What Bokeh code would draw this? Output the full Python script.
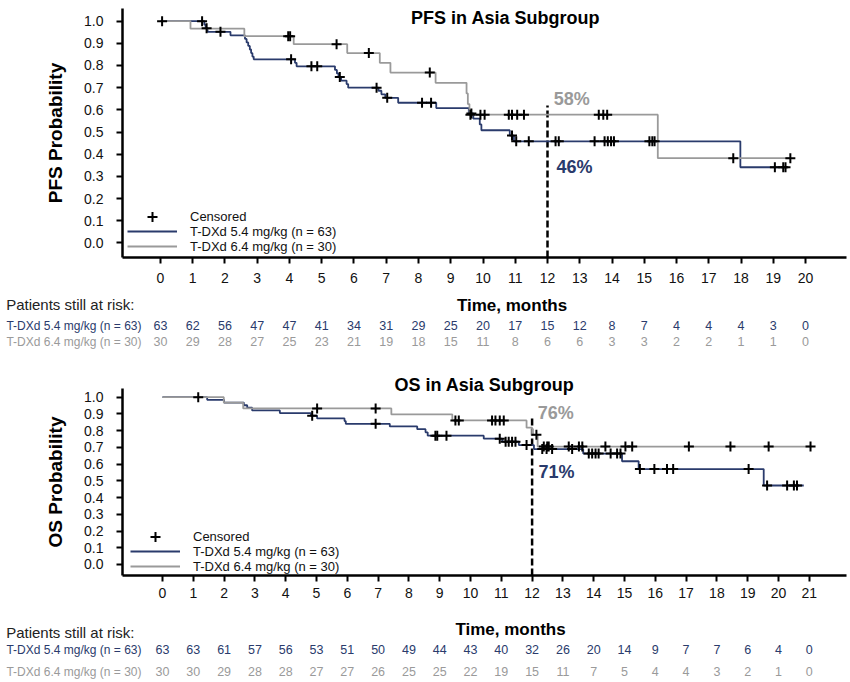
from bokeh.plotting import figure
from bokeh.models import (Range1d, FixedTicker, PrintfTickFormatter, Label, Legend, LegendItem,
                          LinearAxis)
from bokeh.layouts import column
from bokeh.embed import file_html
from bokeh.resources import INLINE
from bokeh.core.properties import value

# ---------------- data ----------------
pfs_months = list(range(0, 21))
os_months = list(range(0, 22))
y_ticks = [0.0, 0.1, 0.2, 0.3, 0.4, 0.5, 0.6, 0.7, 0.8, 0.9, 1.0]
arm_labels = ["T-DXd 5.4 mg/kg (n = 63)", "T-DXd 6.4 mg/kg (n = 30)"]

# PFS, T-DXd 5.4 mg/kg (step times / survival after step)
pfs54_t = [0, 1.36, 1.40, 1.46, 2.17, 2.62, 2.67, 2.72, 2.77, 2.81, 2.85, 2.89, 4.17, 4.22,
           5.41, 5.47, 5.52, 5.60, 5.77, 5.82, 6.76, 6.85, 6.97, 7.37, 8.55, 9.56, 9.70,
           9.90, 9.95, 10.83, 10.96, 17.98, 19.43]
pfs54_s = [1.0, 0.984, 0.968, 0.952, 0.936, 0.920, 0.904, 0.888, 0.872, 0.856, 0.840, 0.828,
           0.812, 0.796, 0.780, 0.764, 0.748, 0.732, 0.716, 0.700, 0.686, 0.670, 0.654, 0.632,
           0.608, 0.584, 0.560, 0.534, 0.508, 0.484, 0.458, 0.341, 0.341]
pfs54_cens_t = [0.05, 1.29, 1.43, 1.86, 4.05, 4.68, 4.86, 5.56, 6.70, 7.03, 8.11, 8.39, 9.64,
                10.90, 11.03, 11.42, 12.25, 12.35, 13.46, 13.77, 13.87, 13.97, 14.06, 15.16,
                15.25, 15.32, 19.05, 19.31, 19.38]
pfs54_cens_s = [1.0, 1.0, 0.968, 0.952, 0.828, 0.796, 0.796, 0.748, 0.700, 0.654, 0.632, 0.632,
                0.584, 0.484, 0.458, 0.458, 0.458, 0.458, 0.458, 0.458, 0.458, 0.458, 0.458,
                0.458, 0.458, 0.458, 0.341, 0.341, 0.341]

# PFS, T-DXd 6.4 mg/kg
pfs64_t = [0, 0.93, 2.60, 4.13, 5.79, 6.80, 7.13, 8.53, 9.49, 9.53, 9.58, 15.42, 19.53]
pfs64_s = [1.0, 0.966, 0.932, 0.896, 0.856, 0.812, 0.768, 0.722, 0.674, 0.626, 0.578, 0.382, 0.382]
pfs64_cens_t = [3.96, 4.02, 5.46, 6.46, 8.35, 9.61, 9.92, 10.05, 10.80, 10.90, 11.06, 11.27,
                13.59, 13.73, 13.85, 17.76, 19.53]
pfs64_cens_s = [0.932, 0.932, 0.896, 0.856, 0.768, 0.578, 0.578, 0.578, 0.578, 0.578, 0.578,
                0.578, 0.578, 0.578, 0.578, 0.382, 0.382]

# OS, T-DXd 5.4 mg/kg
os54_t = [0, 1.45, 2.00, 2.64, 2.75, 2.91, 3.81, 4.82, 5.02, 5.91, 5.95, 7.38, 8.27, 8.54,
          8.61, 10.43, 11.03, 11.57, 12.06, 13.66, 14.92, 15.46, 19.52, 20.82]
os54_s = [1.0, 0.984, 0.968, 0.952, 0.937, 0.921, 0.905, 0.889, 0.873, 0.857, 0.841, 0.825,
          0.809, 0.790, 0.770, 0.752, 0.734, 0.714, 0.690, 0.663, 0.617, 0.570, 0.472, 0.472]
os54_cens_t = [4.86, 6.92, 8.86, 8.92, 9.22, 10.95, 11.14, 11.24, 11.35, 11.46, 11.82, 12.33,
               12.47, 12.65, 13.30, 13.84, 13.95, 14.06, 14.16, 14.55, 14.76, 14.87, 15.50,
               15.97, 16.38, 16.58, 19.03, 19.63, 20.28, 20.50, 20.60]
os54_cens_s = [0.889, 0.841, 0.770, 0.770, 0.770, 0.752, 0.734, 0.734, 0.734, 0.734, 0.714,
               0.690, 0.690, 0.690, 0.690, 0.663, 0.663, 0.663, 0.663, 0.663, 0.663, 0.663,
               0.570, 0.570, 0.570, 0.570, 0.570, 0.472, 0.472, 0.472, 0.472]

# OS, T-DXd 6.4 mg/kg
os64_t = [0, 1.99, 2.62, 7.43, 9.41, 11.82, 12.00, 12.18, 21.04]
os64_s = [1.0, 0.967, 0.933, 0.897, 0.861, 0.818, 0.775, 0.705, 0.705]
os64_cens_t = [1.16, 5.02, 6.92, 9.51, 9.62, 10.70, 10.81, 10.95, 11.08, 12.14, 12.38, 12.49,
               12.54, 13.19, 13.52, 13.63, 14.38, 15.03, 15.25, 17.09, 18.44, 19.68, 21.04]
os64_cens_s = [1.0, 0.933, 0.933, 0.861, 0.861, 0.861, 0.861, 0.861, 0.861, 0.775, 0.705,
               0.705, 0.705, 0.705, 0.705, 0.705, 0.705, 0.705, 0.705, 0.705, 0.705, 0.705, 0.705]

# Patients still at risk
pfs_risk_54 = [63, 62, 56, 47, 47, 41, 34, 31, 29, 25, 20, 17, 15, 12, 8, 7, 4, 4, 4, 3, 0]
pfs_risk_64 = [30, 29, 28, 27, 25, 23, 21, 19, 18, 15, 11, 8, 6, 6, 3, 3, 2, 2, 1, 1, 0]
os_risk_54 = [63, 63, 61, 57, 56, 53, 51, 50, 49, 44, 43, 40, 32, 26, 20, 14, 9, 7, 7, 6, 4, 0]
os_risk_64 = [30, 30, 29, 28, 28, 27, 27, 26, 25, 25, 22, 19, 15, 11, 7, 5, 4, 4, 3, 2, 1, 0]

landmark_month = 12
pfs_landmark_text = ["58%", "46%"]
os_landmark_text = ["76%", "71%"]

# ---------------- style ----------------
W = 850
LEFT = 122      # common frame left border (all stacked figures share it)
RIGHT = 4       # common frame right border
NAVY = "#2a3b6c"
GRAY = "#9a9a9a"
FONT = "Liberation Sans"


def km_figure(height, xr, yr, top, bottom, months, ylabel, x_standoff):
    p = figure(width=W, height=height, x_range=Range1d(*xr), y_range=Range1d(*yr),
               output_backend="svg", toolbar_location=None,
               min_border_left=LEFT, min_border_right=RIGHT,
               min_border_top=top, min_border_bottom=bottom)
    p.outline_line_color = None
    p.xgrid.visible = False
    p.ygrid.visible = False
    for ax in (p.xaxis[0], p.yaxis[0]):
        ax.axis_line_width = 2.5
        ax.axis_line_color = "black"
        ax.major_tick_line_width = 2
        ax.major_tick_line_color = "black"
        ax.major_tick_in = 0
        ax.major_tick_out = 6
        ax.minor_tick_line_color = None
        ax.major_label_text_font = FONT
        ax.major_label_text_font_size = "14px"
        ax.major_label_text_color = "#111111"
    p.xaxis.ticker = FixedTicker(ticks=months)
    p.xaxis.major_label_standoff = x_standoff
    p.yaxis.ticker = FixedTicker(ticks=y_ticks)
    p.yaxis.formatter = PrintfTickFormatter(format="%.1f")
    p.yaxis.major_label_standoff = 13
    p.yaxis.axis_label = ylabel
    p.yaxis.axis_label_text_font = FONT
    p.yaxis.axis_label_text_font_style = "bold"
    p.yaxis.axis_label_text_font_size = "19px"
    p.yaxis.axis_label_text_color = "black"
    p.yaxis.axis_label_standoff = 15
    return p


def one_legend(p, label, renderer, loc, glyph_h):
    lg = Legend(items=[LegendItem(label=label, renderers=[renderer])],
                location=loc, glyph_width=50, glyph_height=glyph_h,
                label_height=glyph_h, spacing=0, padding=0, margin=0,
                label_standoff=13, border_line_color=None, background_fill_alpha=0,
                label_text_font=FONT, label_text_font_size="13px",
                label_text_color="#111111")
    p.add_layout(lg)


def add_curves(p, c54, c64, cens54, cens64, y_low, dash_top, lm_text, lm_pos, leg_x, leg_y):
    p.segment(x0=[landmark_month], y0=[y_low], x1=[landmark_month], y1=[dash_top],
              line_color="black", line_width=2.5, line_dash="7 3")
    r54 = p.step(x=c54[0], y=c54[1], mode="after", line_color=NAVY, line_width=1.8)
    r64 = p.step(x=c64[0], y=c64[1], mode="after", line_color=GRAY, line_width=1.8)
    rc = p.scatter(x=cens54[0], y=cens54[1], marker="cross", size=10, line_color="black",
                   line_width=2)
    p.scatter(x=cens64[0], y=cens64[1], marker="cross", size=10, line_color="black",
              line_width=2)
    for txt, (lx, ly), col in zip(lm_text, lm_pos, [GRAY, NAVY]):
        p.add_layout(Label(x=lx, y=ly, text=txt, text_color=col, text_font=FONT,
                           text_font_style="bold", text_font_size="18px",
                           text_baseline="middle", text_align="left"))
    one_legend(p, "Censored", rc, (leg_x, leg_y[0]), 25)
    one_legend(p, arm_labels[0], r54, (leg_x, leg_y[1]), 16)
    one_legend(p, arm_labels[1], r64, (leg_x, leg_y[2]), 16)


def left_text(p, y, text, color, size, standoff):
    # a tick-less left axis that carries one row title of the risk table
    ax = LinearAxis(ticker=FixedTicker(ticks=[y]), major_label_overrides={y: text})
    ax.axis_line_color = None
    ax.major_tick_line_color = None
    ax.minor_tick_line_color = None
    ax.major_tick_in = 0
    ax.major_tick_out = 0
    ax.minor_tick_in = 0
    ax.minor_tick_out = 0
    ax.major_label_standoff = standoff
    ax.major_label_text_font = FONT
    ax.major_label_text_font_size = size
    ax.major_label_text_color = color
    p.add_layout(ax, "left")


def risk_figure(height, xr, months, r54, r64, header_y, time_y, time_x, row_y):
    p = figure(width=W, height=height, x_range=Range1d(*xr), y_range=Range1d(height, 0),
               x_axis_type=None, y_axis_type=None, output_backend="svg",
               toolbar_location=None, min_border_left=LEFT, min_border_right=RIGHT,
               min_border_top=0, min_border_bottom=0)
    p.outline_line_color = None
    p.xgrid.visible = False
    p.ygrid.visible = False
    # row titles (left aligned near x = 5 px): first axis takes the width, others overlap
    left_text(p, row_y[0], arm_labels[0], NAVY, "12px", -19)
    left_text(p, row_y[1], arm_labels[1], GRAY, "12px", -138)
    left_text(p, header_y, "Patients still at risk:", "#222222", "15px", -131)
    p.add_layout(Label(x=time_x, y=time_y, text="Time, months", text_font=FONT,
                       text_font_style="bold", text_font_size="17px", text_color="black",
                       text_baseline="middle", text_align="center"))
    for counts, yy, col in zip([r54, r64], row_y, [NAVY, GRAY]):
        p.text(x=months, y=[yy] * len(months), text=[str(v) for v in counts],
               text_font=value(FONT), text_font_size="12.5px", text_color=col,
               text_align="center", text_baseline="middle")
    return p


# ---------------- PFS panel ----------------
pfs_xr = (-1.178, 21.271)
pfs_yr = (-0.066, 1.057)
p1 = km_figure(290, pfs_xr, pfs_yr, 8, 33, pfs_months, "PFS Probability", 9)
add_curves(p1, (pfs54_t, pfs54_s), (pfs64_t, pfs64_s), (pfs54_cens_t, pfs54_cens_s),
           (pfs64_cens_t, pfs64_cens_s), pfs_yr[0], 0.62, pfs_landmark_text,
           [(12.19, 0.651), (12.28, 0.344)], 5, (28.5, 18, 3))
p1.add_layout(Label(x=10.7, y=1.012, text="PFS in Asia Subgroup", text_font=FONT,
                    text_font_style="bold", text_font_size="18px", text_color="black",
                    text_align="center", text_baseline="middle"))

p2 = risk_figure(60, pfs_xr, pfs_months, pfs_risk_54, pfs_risk_64, 14, 15, 10.9, [35, 51])

# ---------------- OS panel ----------------
os_xr = (-1.299, 22.208)
os_yr = (-0.066, 1.052)
p3 = km_figure(255, os_xr, os_yr, 38, 30, os_months, "OS Probability", 6)
add_curves(p3, (os54_t, os54_s), (os64_t, os64_s), (os54_cens_t, os54_cens_s),
           (os64_cens_t, os64_cens_s), os_yr[0], 0.88, os_landmark_text,
           [(12.18, 0.903), (12.21, 0.55)], 8, (26.5, 16, 1))
p3.title.text = "OS in Asia Subgroup"
p3.title.align = "center"
p3.title.offset = 31
p3.title.standoff = -12
p3.title.text_font = FONT
p3.title.text_font_style = "bold"
p3.title.text_font_size = "18px"
p3.title.text_color = "black"

p4 = risk_figure(77, os_xr, os_months, os_risk_54, os_risk_64, 27, 24, 11.3, [44, 66])

layout = column(p1, p2, p3, p4, spacing=0)
open("out.html", "w").write(file_html(layout, INLINE))
